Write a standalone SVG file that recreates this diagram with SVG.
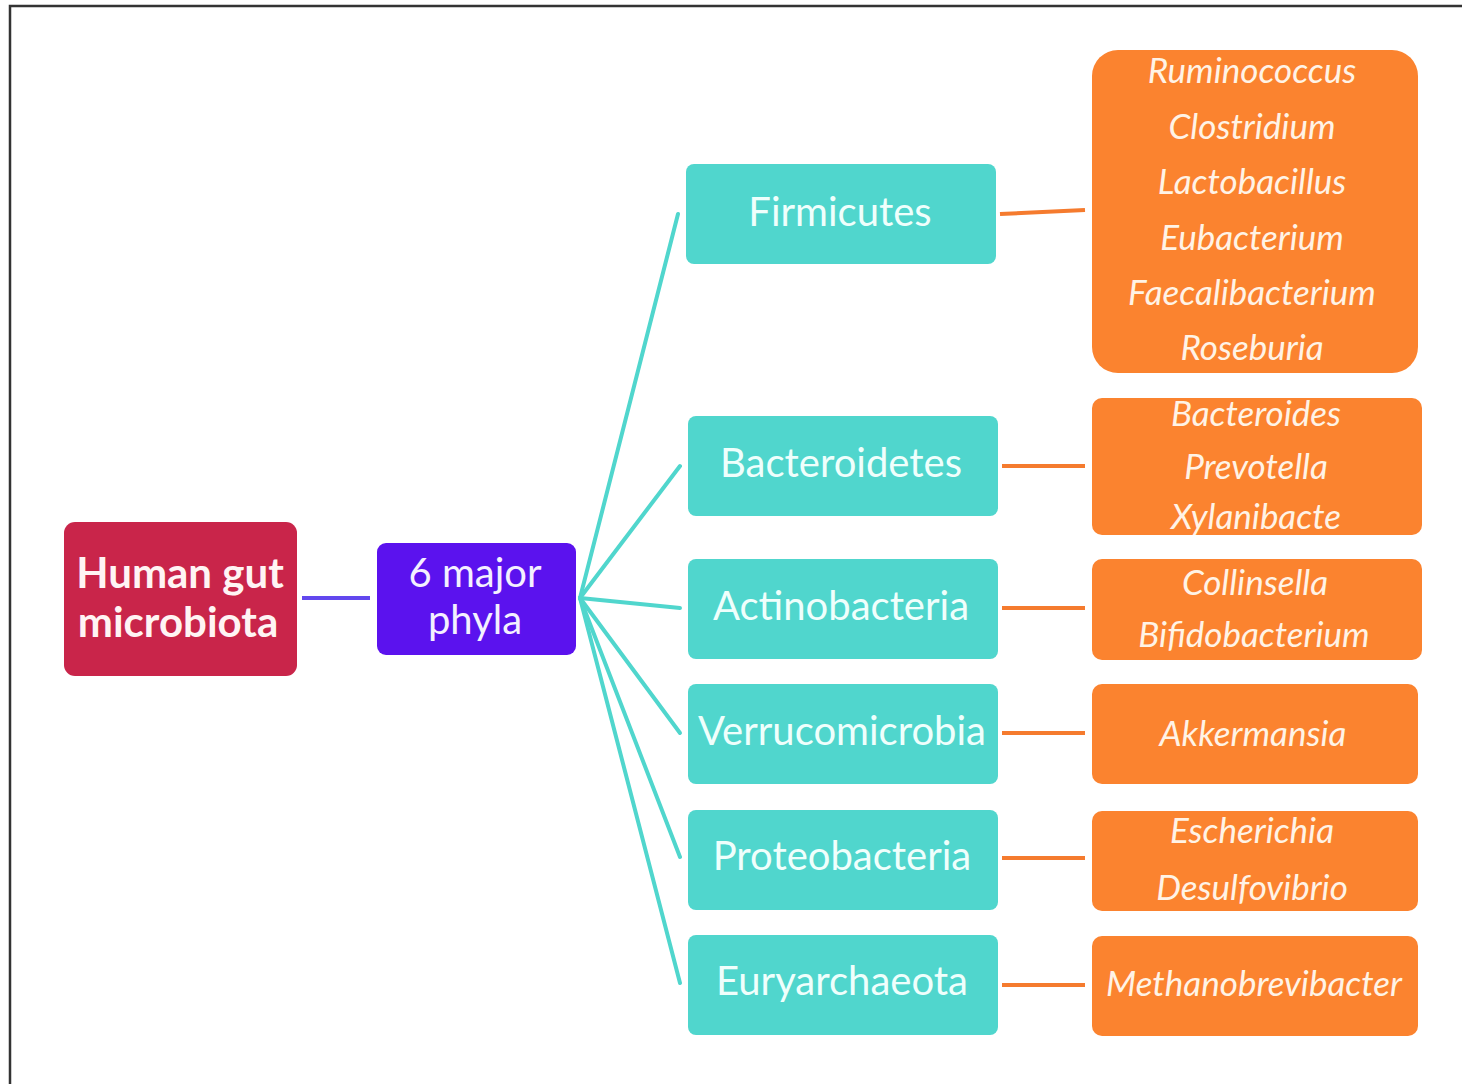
<svg xmlns="http://www.w3.org/2000/svg" width="1462" height="1084" viewBox="0 0 1462 1084">
<style>
.root{fill:#C9254A}
.mid{fill:#5B12EE}
.phy{fill:#50D6CD}
.gen{fill:#FB832F}
text{font-family:Lato,"Open Sans","Liberation Sans",sans-serif;text-anchor:middle;dominant-baseline:central}
.tb{font-size:42px;font-weight:bold;fill:#FFF4F4}
.tm{font-size:40px;fill:#F4F0FF}
.tp{font-size:40px;fill:#EFFFFC}
.tg{font-size:35px;font-style:italic;fill:#FFF3E6}
.cp{stroke:#50D6CD;stroke-width:4;fill:none;stroke-linecap:round}
.co{stroke:#F57B2E;stroke-width:4;fill:none}
.cv{stroke:#6248EE;stroke-width:4;fill:none}
</style>
<rect width="1462" height="1084" fill="#FFFFFF"/>
<path d="M10 1084 V6 H1462" stroke="#333" stroke-width="2.5" fill="none"/>
<g id="connectors">
<line class="cv" x1="302" y1="598" x2="370" y2="598"/>
<line class="cp" x1="580" y1="598" x2="678" y2="214"/>
<line class="cp" x1="580" y1="598" x2="680" y2="466"/>
<line class="cp" x1="580" y1="598" x2="680" y2="608"/>
<line class="cp" x1="580" y1="598" x2="680" y2="733"/>
<line class="cp" x1="580" y1="598" x2="680" y2="857"/>
<line class="cp" x1="580" y1="598" x2="680" y2="983"/>
<line class="co" x1="1000" y1="214" x2="1085" y2="210"/>
<line class="co" x1="1002" y1="466" x2="1085" y2="466"/>
<line class="co" x1="1002" y1="608" x2="1085" y2="608"/>
<line class="co" x1="1002" y1="733" x2="1085" y2="733"/>
<line class="co" x1="1002" y1="858" x2="1085" y2="858"/>
<line class="co" x1="1002" y1="985" x2="1085" y2="985"/>
</g>
<g id="human-gut-microbiota">
<rect class="root" x="64" y="522" width="233" height="154" rx="11"/>
<text class="tb" x="180" y="572">Human gut</text>
<text class="tb" x="178" y="621">microbiota</text>
</g>
<g id="major-phyla">
<rect class="mid" x="377" y="543" width="199" height="112" rx="9"/>
<text class="tm" x="475" y="572">6 major</text>
<text class="tm" x="475" y="619">phyla</text>
</g>
<g id="firmicutes">
<rect class="phy" x="686" y="164" width="310" height="100" rx="8"/>
<text class="tp" x="840" y="211">Firmicutes</text>
</g>
<g id="bacteroidetes">
<rect class="phy" x="688" y="416" width="310" height="100" rx="8"/>
<text class="tp" x="841" y="462">Bacteroidetes</text>
</g>
<g id="actinobacteria">
<rect class="phy" x="688" y="559" width="310" height="100" rx="8"/>
<text class="tp" x="841" y="605">Actinobacteria</text>
</g>
<g id="verrucomicrobia">
<rect class="phy" x="688" y="684" width="310" height="100" rx="8"/>
<text class="tp" x="842" y="730">Verrucomicrobia</text>
</g>
<g id="proteobacteria">
<rect class="phy" x="688" y="810" width="310" height="100" rx="8"/>
<text class="tp" x="842" y="855">Proteobacteria</text>
</g>
<g id="euryarchaeota">
<rect class="phy" x="688" y="935" width="310" height="100" rx="8"/>
<text class="tp" x="842" y="980">Euryarchaeota</text>
</g>
<g id="firmicutes-genera">
<rect class="gen" x="1092" y="50" width="326" height="323" rx="26"/>
<text class="tg" x="1252" y="69">Ruminococcus</text>
<text class="tg" x="1252" y="125">Clostridium</text>
<text class="tg" x="1252" y="180">Lactobacillus</text>
<text class="tg" x="1252" y="236">Eubacterium</text>
<text class="tg" x="1252" y="291">Faecalibacterium</text>
<text class="tg" x="1252" y="346">Roseburia</text>
</g>
<g id="bacteroidetes-genera">
<rect class="gen" x="1092" y="398" width="330" height="137" rx="10"/>
<text class="tg" x="1256" y="412">Bacteroides</text>
<text class="tg" x="1256" y="465">Prevotella</text>
<text class="tg" x="1256" y="515">Xylanibacte</text>
</g>
<g id="actinobacteria-genera">
<rect class="gen" x="1092" y="559" width="330" height="101" rx="10"/>
<text class="tg" x="1255" y="581">Collinsella</text>
<text class="tg" x="1254" y="633">Bifidobacterium</text>
</g>
<g id="verrucomicrobia-genera">
<rect class="gen" x="1092" y="684" width="326" height="100" rx="10"/>
<text class="tg" x="1253" y="732">Akkermansia</text>
</g>
<g id="proteobacteria-genera">
<rect class="gen" x="1092" y="811" width="326" height="100" rx="10"/>
<text class="tg" x="1252" y="829">Escherichia</text>
<text class="tg" x="1252" y="886">Desulfovibrio</text>
</g>
<g id="euryarchaeota-genera">
<rect class="gen" x="1092" y="936" width="326" height="100" rx="10"/>
<text class="tg" x="1254" y="982">Methanobrevibacter</text>
</g>
</svg>
